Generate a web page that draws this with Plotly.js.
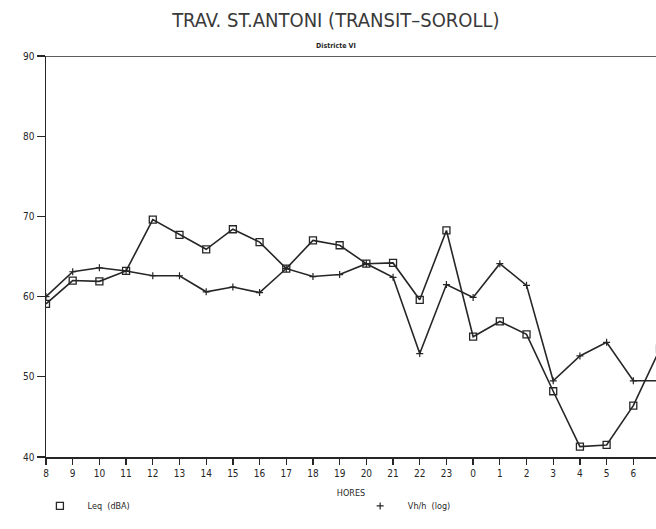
<!DOCTYPE html>
<html>
<head>
<meta charset="utf-8">
<script src="https://cdn.plot.ly/plotly-3.0.1.min.js"></script>
<style>html,body{margin:0;padding:0;background:#fff;}#chart{width:656px;height:529px;}</style>
</head>
<body>
<div id="chart"></div>
<script>
// Hours of the day (categories)
const hours = ['8','9','10','11','12','13','14','15','16','17','18','19','20','21','22','23','0','1','2','3','4','5','6','7'];
// Leq (dBA)
const leq = [59.1, 62.0, 61.9, 63.2, 69.6, 67.7, 65.9, 68.4, 66.8, 63.5, 67.0, 66.4, 64.1, 64.2, 59.6, 68.25, 55.0, 56.9, 55.3, 48.2, 41.3, 41.5, 46.4, 53.5];
// Vh/h (log)
const vhh = [60.0, 63.1, 63.6, 63.2, 62.6, 62.6, 60.6, 61.2, 60.5, 63.5, 62.5, 62.75, 64.1, 62.4, 52.9, 61.5, 59.9, 64.1, 61.4, 49.5, 52.6, 54.3, 49.5, 49.5];
const yTicks = [40, 50, 60, 70, 80, 90];

const ink = '#262626';
const fontFam = 'DejaVu Sans Condensed, Liberation Sans Narrow, Liberation Sans, sans-serif';

const sqMarker = {symbol: 'square-open', size: 7, color: ink, line: {width: 1.3, color: ink}};
const crMarker = {symbol: 'cross-thin-open', size: 5, color: ink, line: {width: 1.2, color: ink}};

const traces = [
  {x: hours, y: leq, type: 'scatter', mode: 'lines+markers', name: 'Leq (dBA)', showlegend: false,
   line: {color: ink, width: 1.6}, marker: sqMarker},
  {x: hours, y: vhh, type: 'scatter', mode: 'lines+markers', name: 'Vh/h (log)', showlegend: false,
   line: {color: ink, width: 1.6}, marker: crMarker},
  {x: [null], y: [null], type: 'scatter', mode: 'markers', name: '\u00a0\u00a0\u00a0Leq\u00a0\u00a0(dBA)', legend: 'legend', marker: sqMarker},
  {x: [null], y: [null], type: 'scatter', mode: 'markers', name: '\u00a0\u00a0\u00a0Vh/h\u00a0\u00a0(log)', legend: 'legend2', marker: crMarker}
];

const legendBase = {orientation: 'h', xanchor: 'left', y: -0.122, yanchor: 'middle',
  font: {size: 9, family: fontFam, color: ink}, itemwidth: 30, bgcolor: 'rgba(0,0,0,0)'};

const layout = {
  width: 656, height: 529,
  margin: {l: 46, r: 0, t: 56, b: 72, pad: 0},
  paper_bgcolor: '#fff', plot_bgcolor: '#fff',
  font: {family: fontFam, color: ink},
  title: {text: 'TRAV. ST.ANTONI (TRANSIT\u2013SOROLL)', x: 0.512, xanchor: 'center', y: 0.962, yanchor: 'middle',
          font: {size: 20, family: fontFam, color: '#3a3a3a'}},
  xaxis: {type: 'category', categoryorder: 'array', categoryarray: hours, range: [0, 22.85],
          showgrid: false, zeroline: false, showline: true, linecolor: ink, linewidth: 1.5, mirror: false,
          ticks: 'outside', ticklen: 6, tickwidth: 1.3, tickcolor: ink,
          tickfont: {size: 10, family: fontFam, color: ink},
          title: {text: 'HORES', standoff: 12, font: {size: 9, family: fontFam, color: ink}}, automargin: false},
  yaxis: {range: [40, 90], tickvals: yTicks, showgrid: false, zeroline: false, showline: true, linecolor: ink, linewidth: 1.5,
          ticks: 'outside', ticklen: 8, tickwidth: 1.3, tickcolor: ink,
          tickfont: {size: 10, family: fontFam, color: ink}, automargin: false},
  shapes: [{type: 'line', xref: 'paper', yref: 'y', x0: 0, x1: 1, y0: 90, y1: 90, line: {color: ink, width: 1.5}}],
  annotations: [{text: '<b>Districte VI</b>', xref: 'paper', yref: 'paper', x: 0.475, y: 1.024, xanchor: 'center', yanchor: 'middle',
                 showarrow: false, font: {size: 7, family: fontFam, color: ink}}],
  legend: Object.assign({}, legendBase, {x: -0.01}),
  legend2: Object.assign({}, legendBase, {x: 0.515})
};

Plotly.newPlot('chart', traces, layout, {displayModeBar: false, staticPlot: true});
</script>
</body>
</html>
